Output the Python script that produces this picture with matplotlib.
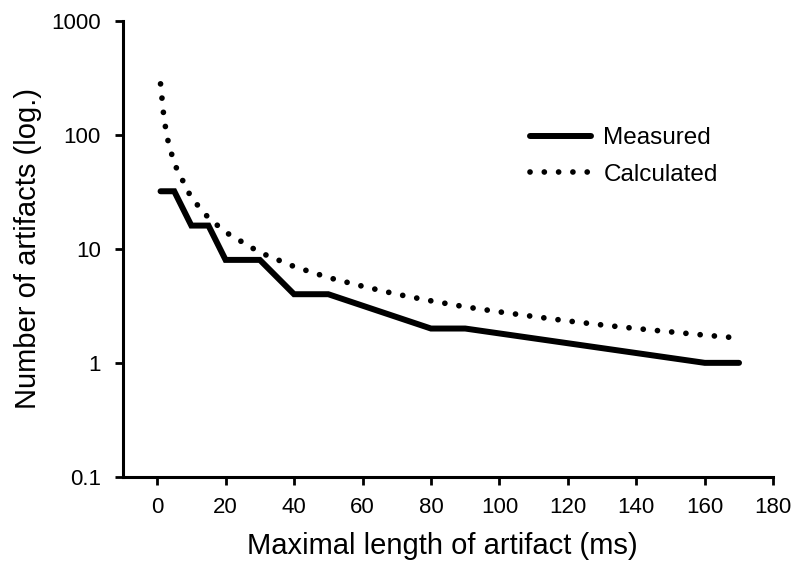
import matplotlib
matplotlib.use("Agg")
import matplotlib.pyplot as plt
from matplotlib.ticker import FixedLocator, FixedFormatter, NullLocator

plt.rcParams['font.family'] = ['Liberation Sans', 'DejaVu Sans']

# Measured (step-like) artifact counts
meas_x = [1, 5, 10, 15, 20, 30, 40, 50, 80, 90, 160, 170]
meas_y = [32, 32, 16, 16, 8, 8, 4, 4, 2, 2, 1, 1]

# Calculated artifact counts
calc_x = [1, 2, 3, 5, 10, 15, 20, 30, 40, 50, 60, 70, 80, 90, 100,
          110, 120, 130, 140, 150, 160, 170]
calc_y = [280, 140, 93, 56, 28, 18.7, 14, 9.3, 7, 5.6, 4.7, 4, 3.5, 3.1, 2.8,
          2.55, 2.33, 2.15, 2.0, 1.87, 1.75, 1.65]

y_ticks = [0.1, 1, 10, 100, 1000]
y_labels = ['0.1', '1', '10', '100', '1000']
x_ticks = list(range(0, 181, 20))

fig = plt.figure(figsize=(7.98, 5.63), dpi=100)
ax = fig.add_axes([0.154, 0.153, 0.815, 0.810])

ax.plot(meas_x, meas_y, color='black', lw=4.3, solid_capstyle='round',
        solid_joinstyle='miter', label='Measured')
ax.plot(calc_x, calc_y, color='black', lw=4.1, linestyle=(0, (0.01, 2.5)),
        dash_capstyle='round', label='Calculated')

ax.set_yscale('log')
ax.set_ylim(0.1, 1000)
ax.set_xlim(-10, 180)
ax.yaxis.set_major_locator(FixedLocator(y_ticks))
ax.yaxis.set_major_formatter(FixedFormatter(y_labels))
ax.yaxis.set_minor_locator(NullLocator())
ax.set_xticks(x_ticks)

for side in ['top', 'right']:
    ax.spines[side].set_visible(False)
for side in ['left', 'bottom']:
    ax.spines[side].set_linewidth(2.2)

ax.tick_params(axis='both', direction='out', length=5.8, width=2.0,
               labelsize=16)
ax.tick_params(axis='y', pad=10)
ax.tick_params(axis='x', pad=9)

ax.set_xlabel('Maximal length of artifact (ms)', fontsize=21)
ax.xaxis.set_label_coords(0.491, -0.12)
ax.set_ylabel('Number of artifacts (log.)', fontsize=21, labelpad=7)

ax.legend(loc='upper left', bbox_to_anchor=(0.593, 0.815), frameon=False,
          fontsize=17.5, handlelength=2.5, handletextpad=0.5, labelspacing=0.6)

fig.savefig('out.png', dpi=100)
